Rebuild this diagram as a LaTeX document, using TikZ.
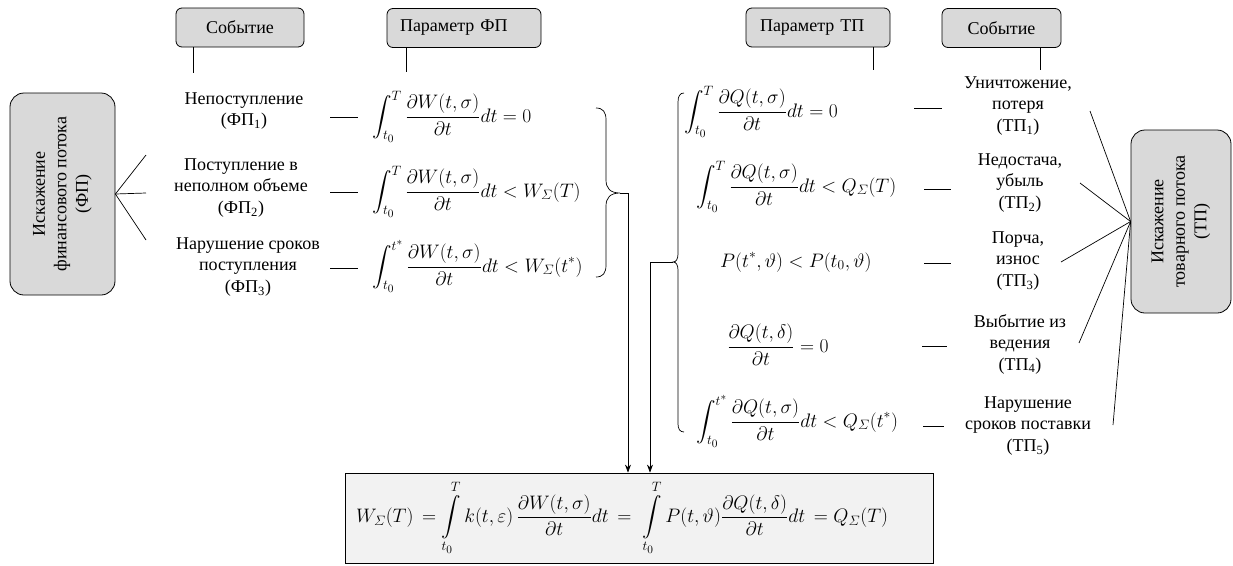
\documentclass[tikz,border=0pt]{standalone}
\usepackage{amsmath}
\usepackage{graphicx}
\usepackage{fontspec}
\setmainfont{Liberation Serif}
\usetikzlibrary{arrows.meta}
\definecolor{boxgray}{RGB}{217,217,217}
\definecolor{botgray}{RGB}{242,242,242}
\newcommand\evfont{\fontsize{18}{21.5}\selectfont}
\newcommand\mfont{\fontsize{17.28}{22}\selectfont}
\newcommand\M[1]{\scalebox{1.13}{$\displaystyle #1$}}
\newcommand\Sg{\mathnormal{\Sigma}}
\tikzset{
  hdr/.style={draw, fill=boxgray, rounded corners=6pt, line width=0.8pt, minimum height=39pt, font=\evfont, inner sep=0pt},
  side/.style={draw, fill=boxgray, rounded corners=14pt, line width=0.8pt, font=\evfont, align=center, rotate=90, inner sep=0pt},
  ev/.style={align=center, font=\evfont, inner sep=0pt},
  fm/.style={font=\mfont, inner sep=0pt, anchor=base west},
  ln/.style={line width=0.7pt},
  arr/.style={line width=0.7pt, -{Stealth[length=8pt,width=6pt]}},
  botbox/.style={draw, fill=botgray, line width=0.8pt, minimum width=588pt, minimum height=90pt, text width=566pt, inner xsep=11pt, inner ysep=0pt, align=left, font=\mfont}
}
\begin{document}
\begin{tikzpicture}[x=1pt,y=-1pt]
\useasboundingbox (0,0) rectangle (1233,565);
% header boxes
\node[hdr, minimum width=128pt] (evL) at (240,27.5) {Событие};
\node[hdr, minimum width=154pt, text width=128pt, inner xsep=13pt, align=left] (parF) at (464,28) {Параметр ФП};
\node[hdr, minimum width=144pt, text width=116pt, inner xsep=14pt, align=left] (parT) at (818,27.5) {Параметр ТП};
\node[hdr, minimum width=119pt] (evR) at (1001.5,28) {Событие};
\coordinate (evLend) at (193,73);
\coordinate (parFend) at (406,72);
\coordinate (parTend) at (873,70);
\coordinate (evRend) at (1040,70);
\draw[ln] (evLend |- evL.south) -- (evLend);
\draw[ln] (parFend |- parF.south) -- (parFend);
\draw[ln] (parTend |- parT.south) -- (parTend);
\draw[ln] (evRend |- evR.south) -- (evRend);
% side boxes
\node[side, minimum width=202pt, minimum height=105pt] (lbox) at (62.5,194) {Искажение\\финансового потока\\(ФП)};
\node[side, minimum width=183pt, minimum height=100pt] (rbox) at (1181,221.5) {Искажение\\товарного потока\\(ТП)};
\coordinate (a1) at (146,155);
\coordinate (a2) at (146,193);
\coordinate (a3) at (146,240);
\draw[ln] (a1) -- (lbox.south) -- (a3);
\draw[ln] (lbox.south) -- (a2);
\coordinate (b1) at (1090,111);
\coordinate (b2) at (1080,183);
\coordinate (b3) at (1061,262);
\coordinate (b4) at (1079,343);
\coordinate (b5) at (1113,425);
\foreach \b in {b1,b2,b3,b4,b5} \draw[ln] (rbox.north) -- (\b);
% FP events
\node[ev] (e1) at (244,111) {Непоступление\\(ФП\textsubscript{1})};
\node[ev] (e2) at (241,188) {Поступление в\\неполном объеме\\(ФП\textsubscript{2})};
\node[ev] (e3) at (248,267) {Нарушение сроков\\поступления\\(ФП\textsubscript{3})};
% TP events
\node[ev] (t1) at (1018,106) {Уничтожение,\\потеря\\(ТП\textsubscript{1})};
\node[ev] (t2) at (1020,183) {Недостача,\\убыль\\(ТП\textsubscript{2})};
\node[ev] (t3) at (1018,261) {Порча,\\износ\\(ТП\textsubscript{3})};
\node[ev] (t4) at (1020,344) {Выбытие из\\ведения\\(ТП\textsubscript{4})};
\node[ev] (t5) at (1028,426) {Нарушение\\сроков поставки\\(ТП\textsubscript{5})};
% FP formulas
\node[fm] (f1) at (372,122) {\M{\int_{t_0}^{T}\frac{\partial W(t,\sigma)}{\partial t}dt=0}};
\node[fm] (f2) at (372,197) {\M{\int_{t_0}^{T}\frac{\partial W(t,\sigma)}{\partial t}dt< W_{\Sg}(T)}};
\node[fm] (f3) at (372,272) {\M{\int_{t_0}^{t^*}\frac{\partial W(t,\sigma)}{\partial t}dt< W_{\Sg}(t^*)}};
% TP formulas
\node[fm] (g1) at (684,117) {\M{\int_{t_0}^{T}\frac{\partial Q(t,\sigma)}{\partial t}dt=0}};
\node[fm] (g2) at (696,192) {\M{\int_{t_0}^{T}\frac{\partial Q(t,\sigma)}{\partial t}dt< Q_{\Sg}(T)}};
\node[fm] (g3) at (720,267) {\M{P(t^*,\vartheta)<P(t_0,\vartheta)}};
\node[fm] (g4) at (727,352) {\M{\frac{\partial Q(t,\delta)}{\partial t}=0}};
\node[fm] (g5) at (696,427) {\M{\int_{t_0}^{t^*}\frac{\partial Q(t,\sigma)}{\partial t}dt< Q_{\Sg}(t^*)}};
% dashes
\draw[ln] (330,117) -- (358,117);
\draw[ln] (330,192) -- (358,192);
\draw[ln] (330,268) -- (358,268);
\draw[ln] (914,108) -- (942,108);
\draw[ln] (924,189) -- (951,189);
\draw[ln] (924,263) -- (951,263);
\draw[ln] (922,346) -- (947,346);
\draw[ln] (923,426) -- (944,426);
% braces
\draw[ln] (596,108) .. controls (603,108) and (606,112) .. (606,120) -- (606,180) .. controls (606,188) and (610,193) .. (620,193) .. controls (610,193) and (606,198) .. (606,206) -- (606,265) .. controls (606,273) and (603,277) .. (596,277);
\draw[ln] (684,93) .. controls (680,93) and (678,96) .. (678,102) -- (678,254) .. controls (678,259) and (676,262) .. (673,262) .. controls (676,262) and (678,265) .. (678,270) -- (678,424) .. controls (678,429) and (680,432) .. (684,432);
\coordinate (fptip) at (620,193);
\coordinate (tptip) at (673,262);
% bottom box
\node[botbox] (bot) at (639,518) {\M{W_{\Sg}(T)\,=\int\limits_{t_0}^{T}k(t,\varepsilon)\,\frac{\partial W(t,\sigma)}{\partial t}dt\,=\hspace{5pt}\int\limits_{t_0}^{T}P(t,\vartheta)\frac{\partial Q(t,\delta)}{\partial t}dt\,=Q_{\Sg}(T)}};
\draw[arr] (fptip) -| ([xshift=-11pt]bot.north);
\draw[arr] (tptip) -| ([xshift=11pt]bot.north);
\end{tikzpicture}
\end{document}
